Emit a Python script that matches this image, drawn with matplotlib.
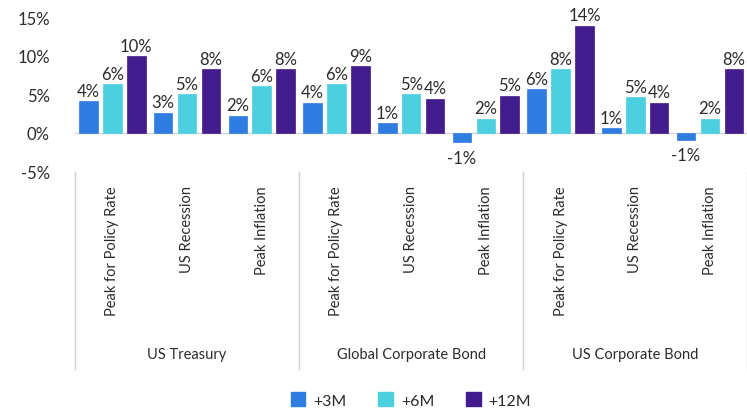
import numpy as np
import matplotlib.pyplot as plt
from matplotlib.patches import Patch
from matplotlib.transforms import blended_transform_factory

plt.rcParams['font.family'] = ['Lato', 'DejaVu Sans']

groups = ["US Treasury", "Global Corporate Bond", "US Corporate Bond"]
scenarios = ["Peak for Policy Rate", "US Recession", "Peak Inflation"]
series = ["+3M", "+6M", "+12M"]

# returns in %, one value per scenario, groups in order
ret_3m = [4.1, 2.6, 2.2, 3.9, 1.2, -1.2, 5.6, 0.6, -0.9]
ret_6m = [6.3, 5.0, 6.0, 6.3, 5.0, 1.8, 8.2, 4.6, 1.8]
ret_12m = [9.9, 8.2, 8.2, 8.6, 4.4, 4.8, 13.9, 3.9, 8.2]

colors = ["#2f7de1", "#4ccfdf", "#421b8d"]
txt = "#2b2b2b"

fig = plt.figure(figsize=(7.47, 4.10), dpi=100)
ax = fig.add_axes([0.1004, 0.580, 0.9, 0.376])

x = np.arange(len(ret_3m))
w = 0.25
offs = [-0.32, 0.0, 0.32]
for vals, off, c in zip([ret_3m, ret_6m, ret_12m], offs, colors):
    ax.bar(x + off, vals, width=w, color=c, edgecolor=c, linewidth=0.5, zorder=3)
    for xi, v in zip(x + off, vals):
        if v >= 0:
            ax.text(xi, v + 0.3, "{:.0f}%".format(v), ha="center", va="bottom",
                    fontsize=12, color=txt, clip_on=False)
        else:
            ax.text(xi, v - 1.0, "{:.0f}%".format(v), ha="center", va="top",
                    fontsize=12, color=txt, clip_on=False)

ax.axhline(0, color="#d4d4d4", linewidth=1, zorder=1)
ax.set_xlim(-0.5, 8.5)
ax.set_ylim(-5, 15)
ax.set_yticks([-5, 0, 5, 10, 15])
ax.set_yticklabels(["-5%", "0%", "5%", "10%", "15%"], fontsize=12, color=txt)
ax.tick_params(axis="y", length=0, pad=18)
ax.set_xticks([])
for s in ax.spines.values():
    s.set_visible(False)

# category axis below the plot
tr = blended_transform_factory(ax.transData, fig.transFigure)
for xs in [-0.5, 2.5, 5.5, 8.5]:
    fig.add_artist(plt.Line2D([xs, xs], [1 - 173 / 410, 1 - 370 / 410],
                              transform=tr, color="#d0d0d0", linewidth=1))
for i in range(len(ret_3m)):
    ax.text(i, 1 - 186 / 410, scenarios[i % 3], transform=tr, rotation=90,
            ha="center", va="top", fontsize=10.5, color=txt)
for g, name in enumerate(groups):
    ax.text(g * 3 + 1, 1 - 355 / 410, name, transform=tr, ha="center",
            va="center", fontsize=10.5, color=txt)

handles = [Patch(facecolor=c, edgecolor=c) for c in colors]
fig.legend(handles, series, loc="center", bbox_to_anchor=(411 / 747, 1 - 401 / 410),
           ncol=3, frameon=False, fontsize=11.5, handlelength=0.9, handleheight=0.9,
           handletextpad=0.5, columnspacing=2.0, labelcolor=txt)

fig.savefig("out.png", dpi=100)
